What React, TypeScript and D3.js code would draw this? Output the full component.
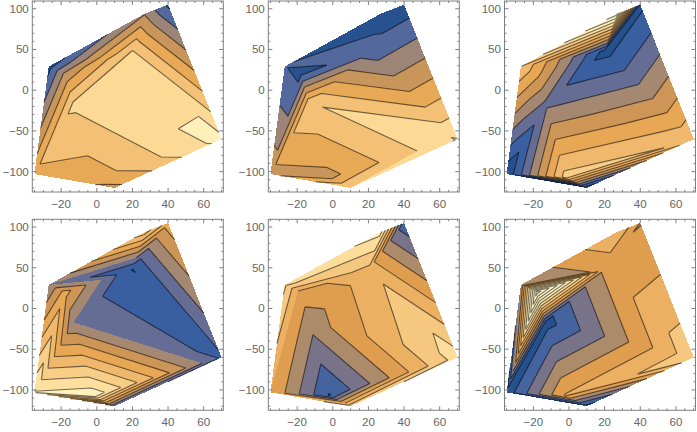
import * as d3 from 'd3'

// mesh nodes shared by all six panels
const nodeX = [-35, -27, 40, 70, 10, -2, -13, 20, 27, -18]
const nodeY = [-103, 29, 105, -60, -120, -107, -17, 48, 94, 20]
const mesh = [
  [0, 1, 9], [0, 9, 6], [0, 6, 5], [5, 6, 3], [5, 3, 4], [6, 7, 3],
  [6, 9, 7], [9, 1, 7], [1, 8, 7], [8, 2, 7], [2, 3, 7], [0, 5, 4],
]

// node values per panel, in units of one contour step
const panel1 = [4.8, 0.6, 0.8, 7.33, 3.75, 4.5, 6.2, 6.05, 2.9, 3.2]
const panel2 = [3.7, 1.05, 0.33, 7.05, 6, 3.7, 5.9, 1.4, 0.5, 0.75]
const panel3 = [0.2, 6.95, 0.73, 6.88, 0.3, 7.4, 2.75, 0.62, 11.5, 5.3]
const panel4 = [9.1, 3, 5.45, 1.8, 2.2, 9.7, 3, 0.97, 7.5, 5.4]
const panel5 = [5, 7.2, 1.36, 7.5, 6.5, 0.92, 3.42, 5.7, 8.3, 4.55]
const panel6 = [0.4, 3, 3.95, 6.7, 0.5, 5.1, 0.55, 4.2, 6, 12.5]
const panelValues = [panel1, panel2, panel3, panel4, panel5, panel6]
const bandCounts = [8, 8, 10, 10, 9, 9]

const xTicks = [-20, 0, 20, 40, 60]
const yTicks = [-100, -50, 0, 50, 100]

const colLeft = [32.3, 268.3, 504.5]
const rowTop = [1, 219.3]
const frameSize = 191

const palette = d3.scaleLinear<string>()
  .domain([0, 0.06, 0.15, 0.19, 0.25, 0.28, 0.31, 0.39, 0.44, 0.5, 0.56, 0.61, 0.69, 0.81, 0.94, 1])
  .range(['#1f4e8c', '#26528e', '#3a5fa0', '#55699c', '#666d95', '#7a7488', '#9b8576', '#ac8b6b', '#c99559', '#df9d4f', '#e8a955', '#ecb062', '#f3c077', '#fcd994', '#fff0ba', '#fff5c8'])
  .clamp(true)

type Pt = [number, number, number]

// keep the part of a polygon on one side of a value
function clip(poly: Pt[], level: number, above: boolean): Pt[] {
  const out: Pt[] = []
  poly.forEach((p, i) => {
    const q = poly[(i + 1) % poly.length]
    const pIn = above ? p[2] >= level : p[2] <= level
    const qIn = above ? q[2] >= level : q[2] <= level
    if (pIn) out.push(p)
    if (pIn !== qIn) {
      const f = (level - p[2]) / (q[2] - p[2])
      out.push([p[0] + f * (q[0] - p[0]), p[1] + f * (q[1] - p[1]), level])
    }
  })
  return out
}

function Panel({ values, bands, left, top }: { values: number[]; bands: number; left: number; top: number }) {
  const x = d3.scaleLinear().domain([-36.2, 71]).range([left, left + frameSize])
  const y = d3.scaleLinear().domain([-125, 109.5]).range([top + frameSize, top])
  const line = d3.line<Pt>().x(d => x(d[0])).y(d => y(d[1]))

  const tris = mesh.map(t => t.map(i => [nodeX[i], nodeY[i], values[i]] as Pt))
  const kMin = Math.floor(d3.min(values)!)
  const kMax = Math.floor(d3.max(values)!)
  const levels = d3.range(kMin, kMax + 1)

  const fills = levels.map(k => {
    const d = tris
      .map(t => clip(clip(t, k, true), k + 1, false))
      .filter(p => p.length > 2)
      .map(p => line(p) + 'Z')
      .join('')
    return { k, d }
  })

  const lines = levels.filter(k => k > kMin).map(k => {
    const d = tris
      .map(t => {
        const seg: Pt[] = []
        t.forEach((p, i) => {
          const q = t[(i + 1) % 3]
          if ((p[2] - k) * (q[2] - k) < 0) {
            const f = (k - p[2]) / (q[2] - p[2])
            seg.push([p[0] + f * (q[0] - p[0]), p[1] + f * (q[1] - p[1]), k])
          }
        })
        return seg.length === 2 ? line(seg) : ''
      })
      .join('')
    return { k, d }
  })

  const xMinor = d3.range(-35, 71, 5).filter(v => !xTicks.includes(v))
  const yMinor = d3.range(-120, 110, 10).filter(v => !yTicks.includes(v))
  const bottom = top + frameSize
  const right = left + frameSize
  const frameColor = '#7f7f7f'

  return (
    <g>
      {fills.map(f => (
        <path key={f.k} d={f.d} fill={palette((f.k + 0.5) / bands)} shapeRendering="crispEdges" />
      ))}
      {lines.map(l => (
        <path key={l.k} d={l.d} fill="none" stroke="#000" strokeOpacity={0.55} strokeWidth={1.1} />
      ))}
      <rect x={left} y={top} width={frameSize} height={frameSize} fill="none" stroke={frameColor} strokeWidth={1} />
      {xTicks.map(v => (
        <g key={v} stroke={frameColor}>
          <line x1={x(v)} x2={x(v)} y1={bottom} y2={bottom - 4} />
          <line x1={x(v)} x2={x(v)} y1={top} y2={top + 4} />
        </g>
      ))}
      {xMinor.map(v => (
        <g key={v} stroke={frameColor}>
          <line x1={x(v)} x2={x(v)} y1={bottom} y2={bottom - 2} />
          <line x1={x(v)} x2={x(v)} y1={top} y2={top + 2} />
        </g>
      ))}
      {yTicks.map(v => (
        <g key={v} stroke={frameColor}>
          <line y1={y(v)} y2={y(v)} x1={left} x2={left + 4} />
          <line y1={y(v)} y2={y(v)} x1={right} x2={right - 4} />
        </g>
      ))}
      {yMinor.map(v => (
        <g key={v} stroke={frameColor}>
          <line y1={y(v)} y2={y(v)} x1={left} x2={left + 2} />
          <line y1={y(v)} y2={y(v)} x1={right} x2={right - 2} />
        </g>
      ))}
      {xTicks.map(v => (
        <text key={v} x={x(v)} y={bottom + 16} textAnchor="middle" fontSize={11.6} fill="#666">
          {d3.format('')(v).replace('-', '\u2212')}
        </text>
      ))}
      {yTicks.map(v => (
        <text key={v} x={left - 3.5} y={y(v) + 4} textAnchor="end" fontSize={11.6} fill="#666">
          {d3.format('')(v).replace('-', '\u2212')}
        </text>
      ))}
    </g>
  )
}

export default function App() {
  return (
    <svg
      width={697}
      height={432}
      style={{ position: 'absolute', left: 0, top: 0, background: '#fff', fontFamily: '"Liberation Sans", Arial, sans-serif' }}
    >
      {panelValues.map((values, i) => (
        <Panel key={i} values={values} bands={bandCounts[i]} left={colLeft[i % 3]} top={rowTop[Math.floor(i / 3)]} />
      ))}
    </svg>
  )
}
